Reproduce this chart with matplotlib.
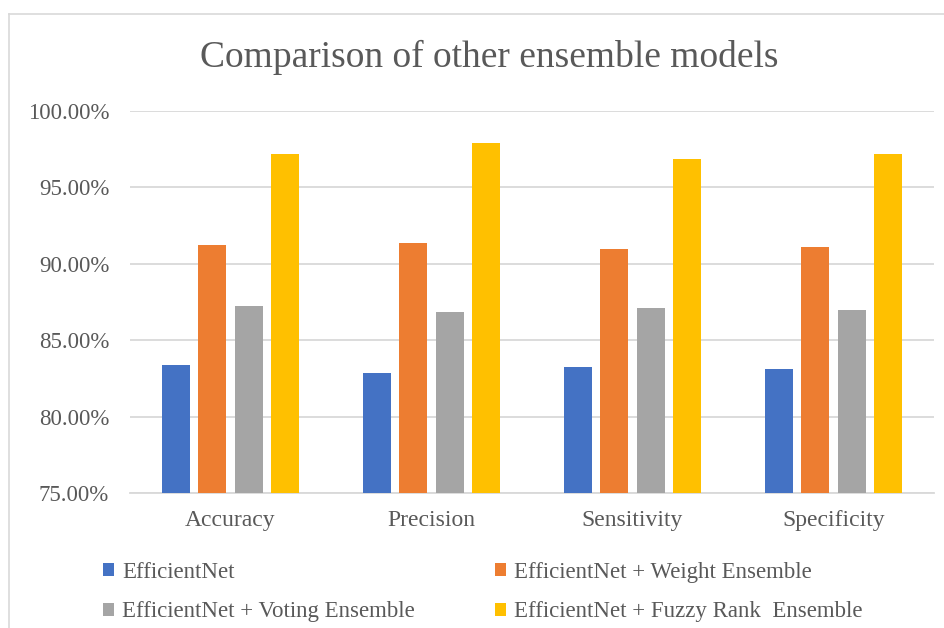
import matplotlib
matplotlib.use("Agg")
import matplotlib.pyplot as plt
from matplotlib.patches import Patch
from matplotlib.lines import Line2D
import numpy as np

# Metrics compared across the four model variants
categories = ["Accuracy", "Precision", "Sensitivity", "Specificity"]
efficientnet = [83.37, 82.86, 83.24, 83.10]
weight_ensemble = [91.22, 91.37, 90.98, 91.08]
voting_ensemble = [87.26, 86.86, 87.11, 86.98]
fuzzy_rank_ensemble = [97.16, 97.90, 96.87, 97.16]

series_names = [
    "EfficientNet",
    "EfficientNet + Weight Ensemble",
    "EfficientNet + Voting Ensemble",
    "EfficientNet + Fuzzy Rank  Ensemble",
]
series_values = [efficientnet, weight_ensemble, voting_ensemble, fuzzy_rank_ensemble]
colors = ["#4472C4", "#ED7D31", "#A5A5A5", "#FFC000"]

text_color = "#595959"
grid_color = "#D9D9D9"
serif = ["Liberation Serif", "DejaVu Serif"]
plt.rcParams["font.family"] = serif

W, H = 944, 628
fig = plt.figure(figsize=(W / 100, H / 100), dpi=100)

# chart frame (top and left edges visible)
fig.add_artist(Line2D([9 / W, 9 / W], [0, 1 - 14 / H], transform=fig.transFigure,
                      color=grid_color, lw=1.2))
fig.add_artist(Line2D([9 / W, 1], [1 - 14 / H, 1 - 14 / H], transform=fig.transFigure,
                      color=grid_color, lw=1.2))

left, right = 130 / W, 934 / W
bottom, top = 1 - 493 / H, 1 - 110.8 / H
ax = fig.add_axes([left, bottom, right - left, top - bottom])

x = np.arange(len(categories))
width = 0.139
step = 0.181
for i, (vals, c, name) in enumerate(zip(series_values, colors, series_names)):
    ax.bar(x + (i - 1.5) * step, np.array(vals) / 100.0, width, color=c,
           label=name, zorder=3)

ax.set_ylim(0.75, 1.0)
ax.set_xlim(-0.5, len(categories) - 0.5)
yt = np.arange(0.75, 1.0001, 0.05)
ax.set_yticks(yt)
ax.set_yticklabels([f"{v * 100:.2f}%" for v in yt])
ax.set_xticks(x)
ax.set_xticklabels(categories)
ax.tick_params(axis="y", length=0, pad=15, labelsize=16.5, labelcolor=text_color)
ax.tick_params(axis="x", length=0, pad=12, labelsize=17, labelcolor=text_color)
ax.yaxis.grid(True, color=grid_color, lw=1.3, zorder=0)
for s in ["top", "right", "left"]:
    ax.spines[s].set_visible(False)
ax.spines["bottom"].set_color(grid_color)
ax.spines["bottom"].set_linewidth(1.3)

fig.text(489 / W, 1 - 57 / H, "Comparison of other ensemble models", ha="center",
         va="center", fontsize=27, color=text_color)

# legend laid out in two columns
handles = [Patch(facecolor=c, edgecolor="none") for c in colors]
leg_kw = dict(frameon=False, prop={"family": serif, "size": 16.5}, labelcolor=text_color,
              handlelength=0.5, handleheight=0.5, handletextpad=0.35,
              labelspacing=0.8, loc="center left", borderaxespad=0, borderpad=0)
fig.legend([handles[0], handles[2]], [series_names[0], series_names[2]],
           bbox_to_anchor=(103 / W, 1 - 592 / H), **leg_kw)
fig.legend([handles[1], handles[3]], [series_names[1], series_names[3]],
           bbox_to_anchor=(495 / W, 1 - 592 / H), **leg_kw)

fig.savefig("out.png", dpi=100)
